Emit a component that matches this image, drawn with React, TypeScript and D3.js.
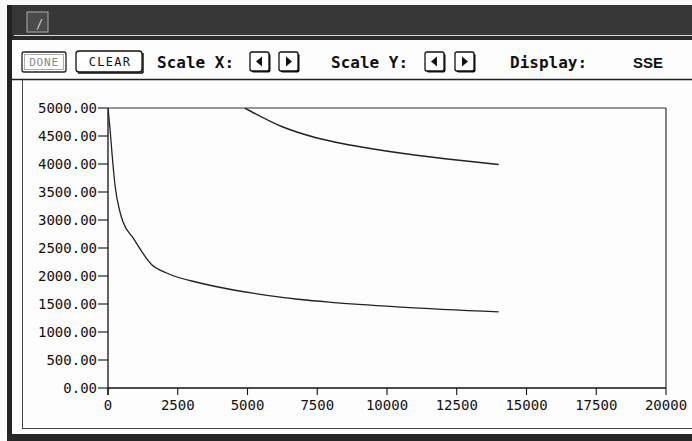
import React from "react";
import * as d3 from "d3";

const xTicks = [0, 2500, 5000, 7500, 10000, 12500, 15000, 17500, 20000];
const yTicks = [0, 500, 1000, 1500, 2000, 2500, 3000, 3500, 4000, 4500, 5000];

const lowerIter = [0, 70, 140, 250, 430, 540, 900, 1580, 2100, 3300, 4500, 5700, 6900, 8000, 10500, 14000];
const lowerSSE = [5000, 4640, 4210, 3625, 3143, 2964, 2680, 2196, 2054, 1875, 1750, 1655, 1580, 1530, 1446, 1360];

const upperIter = [4900, 6270, 7490, 8670, 10470, 12000, 14000];
const upperSSE = [5000, 4660, 4465, 4340, 4196, 4100, 3990];

const toolbarLabels = ["Scale X:", "Scale Y:", "Display:"];
const displayValue = "SSE";

const W = 692;
const H = 441;
const plot = { left: 108, right: 666, top: 108, bottom: 388 };

function ArrowButton({ x, y, dir }: { x: number; y: number; dir: "l" | "r" }) {
  const w = 19, h = 19;
  const cx = x + w / 2, cy = y + h / 2;
  const tri = dir === "l"
    ? `M${cx + 2.5},${cy - 5} L${cx - 3.5},${cy} L${cx + 2.5},${cy + 5} Z`
    : `M${cx - 2.5},${cy - 5} L${cx + 3.5},${cy} L${cx - 2.5},${cy + 5} Z`;
  return (
    <g>
      <rect x={x + 1.5} y={y + 1.5} width={w} height={h} rx={2} fill="#111" />
      <rect x={x} y={y} width={w} height={h} rx={2} fill="#fff" stroke="#111" strokeWidth={1.3} />
      <path d={tri} fill="#111" />
    </g>
  );
}

export default function App() {
  const x = d3.scaleLinear().domain([0, 20000]).range([plot.left, plot.right]);
  const y = d3.scaleLinear().domain([0, 5000]).range([plot.bottom, plot.top]);
  const line = d3.line<[number, number]>().x((d) => x(d[0])).y((d) => y(d[1])).curve(d3.curveMonotoneX);
  const lower = line(lowerIter.map((v, i) => [v, lowerSSE[i]]) as [number, number][]) || "";
  const upper = line(upperIter.map((v, i) => [v, upperSSE[i]]) as [number, number][]) || "";
  const mono = "'DejaVu Sans Mono', monospace";

  return (
    <svg width={W} height={H} style={{ position: "absolute", left: 0, top: 0, background: "#fff" }}>
      <defs>
        <clipPath id="plotclip">
          <rect x={plot.left} y={plot.top} width={plot.right - plot.left} height={plot.bottom - plot.top} />
        </clipPath>
      </defs>
      <rect x={0} y={0} width={W} height={H} fill="#fafafa" />
      {/* window frame */}
      <rect x={7} y={5} width={W - 7} height={33} fill="#363636" />
      <line x1={14} x2={W} y1={35.5} y2={35.5} stroke="#d8d8d8" strokeWidth={1.2} />
      <rect x={7} y={36} width={W - 7} height={4} fill="#2a2a2a" />
      <rect x={7} y={5} width={5} height={H - 5} fill="#222" />
      <rect x={7} y={434} width={W - 7} height={7} fill="#262626" />
      <rect x={12} y={40} width={W - 12} height={394} fill="#fdfdfd" />
      {/* title icon */}
      <rect x={27} y={12} width={21} height={20} fill="#4a4a4a" stroke="#9a9a9a" strokeWidth={1.2} />
      <text x={36} y={28} fontFamily={mono} fontSize={12} fill="#ccc">/</text>

      {/* toolbar */}
      <g>
        <rect x={22} y={52} width={44} height={20} rx={2} fill="#fff" stroke="#222" strokeWidth={1.3} />
        <rect x={24.5} y={54.5} width={39} height={15} fill="none" stroke="#999" strokeWidth={0.8} />
        <text x={44} y={66} textAnchor="middle" fontFamily={mono} fontSize={11} letterSpacing={0.8} fill="#888">DONE</text>
      </g>
      <g>
        <line x1={143} x2={143} y1={53} y2={73} stroke="#111" strokeWidth={1.5} />
        <line x1={78} x2={143} y1={73} y2={73} stroke="#111" strokeWidth={1.5} />
        <rect x={76} y={51} width={66} height={21} rx={3} fill="#fff" stroke="#111" strokeWidth={1.3} />
        <text x={110} y={66} textAnchor="middle" fontFamily={mono} fontSize={12} letterSpacing={1.3} fill="#111">CLEAR</text>
      </g>
      <text x={157} y={68} fontFamily={mono} fontWeight="bold" fontSize={16} fill="#111">{toolbarLabels[0]}</text>
      <ArrowButton x={250} y={52} dir="l" />
      <ArrowButton x={279} y={52} dir="r" />
      <text x={331} y={68} fontFamily={mono} fontWeight="bold" fontSize={16} fill="#111">{toolbarLabels[1]}</text>
      <ArrowButton x={425} y={52} dir="l" />
      <ArrowButton x={455} y={52} dir="r" />
      <text x={510} y={68} fontFamily={mono} fontWeight="bold" fontSize={16} fill="#111">{toolbarLabels[2]}</text>
      <text x={633} y={68} fontFamily="'Liberation Sans', Arial, sans-serif" fontWeight="bold" fontSize={15} fill="#111">{displayValue}</text>

      {/* separator & panel */}
      <line x1={12} x2={W} y1={79.5} y2={79.5} stroke="#222" strokeWidth={1.5} />
      <line x1={22.5} x2={22.5} y1={80} y2={428} stroke="#444" strokeWidth={1} />
      <line x1={22} x2={W} y1={428.5} y2={428.5} stroke="#444" strokeWidth={1} />

      {/* plot box */}
      <line x1={plot.left} x2={plot.right} y1={plot.top} y2={plot.top} stroke="#333" strokeWidth={1.2} />
      <line x1={plot.right} x2={plot.right} y1={plot.top} y2={plot.bottom} stroke="#333" strokeWidth={1.2} />
      <line x1={plot.left} x2={plot.right} y1={plot.bottom} y2={plot.bottom} stroke="#111" strokeWidth={1.3} />
      <line x1={plot.left} x2={plot.left} y1={plot.top} y2={plot.bottom + 7} stroke="#111" strokeWidth={1.3} />

      {/* y axis */}
      {yTicks.map((t) => (
        <g key={"y" + t}>
          <line x1={plot.left - 10} x2={plot.left} y1={y(t)} y2={y(t)} stroke="#111" strokeWidth={1.1} />
          <text x={plot.left - 11} y={y(t) + 5} textAnchor="end" fontFamily={mono} fontSize={14} fill="#111">
            {d3.format(".2f")(t)}
          </text>
        </g>
      ))}
      {/* x axis */}
      {xTicks.map((t) => (
        <g key={"x" + t}>
          <line x1={x(t)} x2={x(t)} y1={plot.bottom} y2={plot.bottom + 7} stroke="#111" strokeWidth={1.1} />
          <text x={x(t)} y={410} textAnchor="middle" fontFamily={mono} fontSize={14} fill="#111">
            {String(t)}
          </text>
        </g>
      ))}

      {/* curves */}
      <g clipPath="url(#plotclip)">
        <path d={lower} fill="none" stroke="#222" strokeWidth={1.3} />
        <path d={upper} fill="none" stroke="#222" strokeWidth={1.5} />
      </g>
    </svg>
  );
}
